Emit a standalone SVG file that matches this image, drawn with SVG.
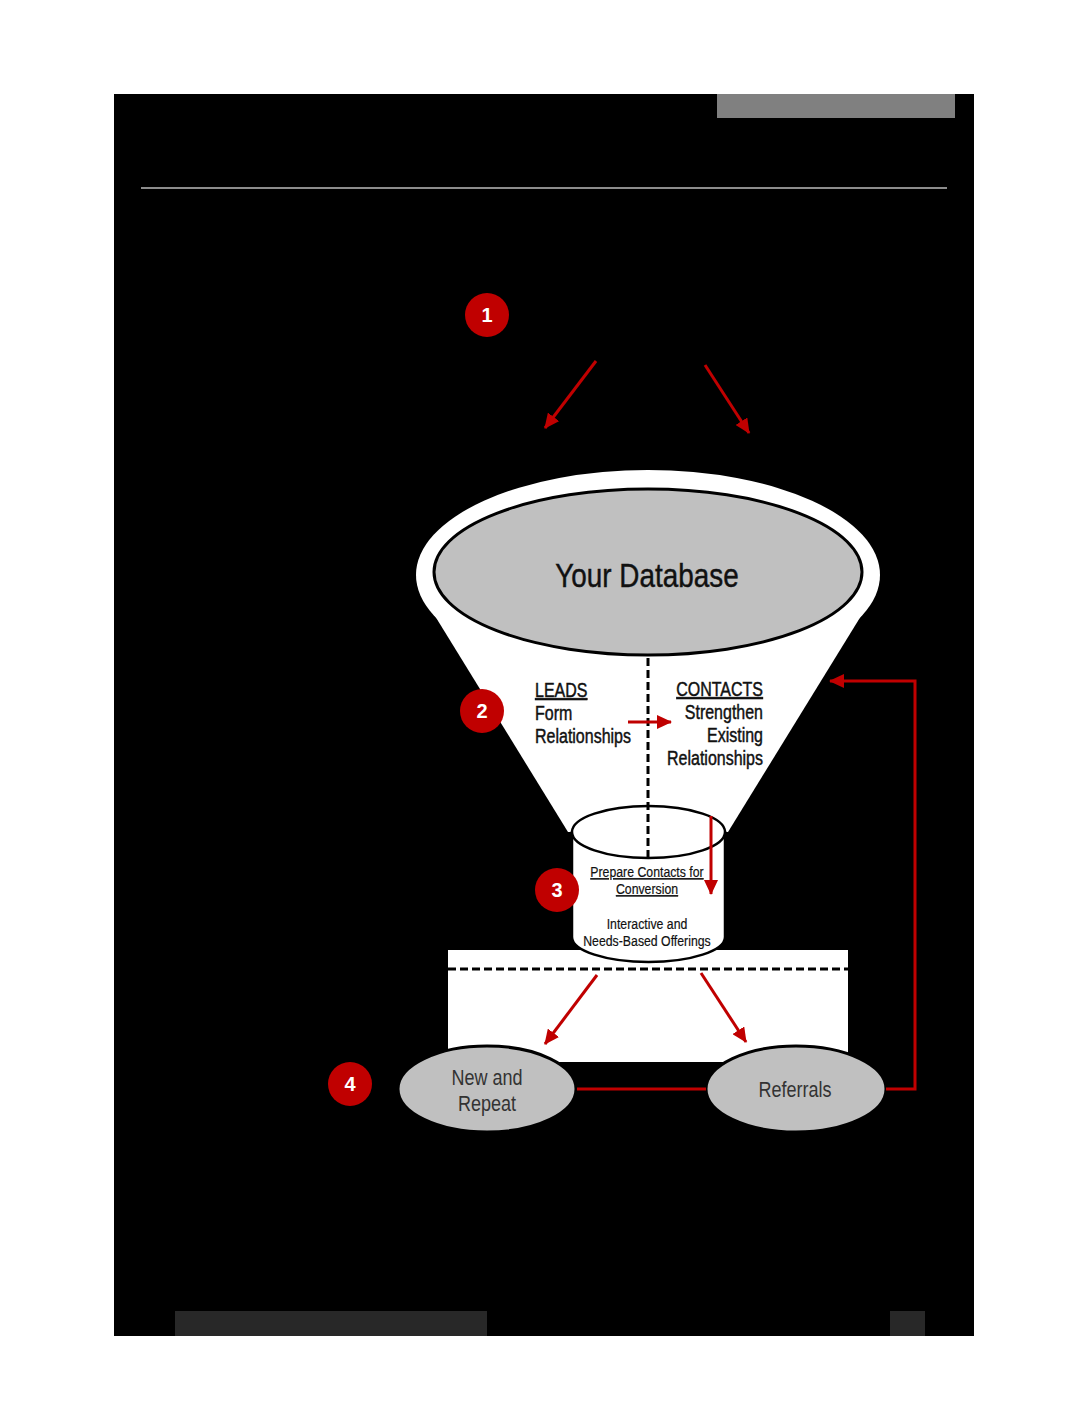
<svg xmlns="http://www.w3.org/2000/svg" width="1088" height="1408" viewBox="0 0 1088 1408">
<defs>
<style>
.nar{font-family:"Liberation Sans","Arial",sans-serif;}
.blk{fill:#111;stroke:#111;stroke-width:0.45;}
.lbl{font-size:19.5px;}
.cyl{font-size:15px;stroke-width:0.2;}
.ell{font-size:22px;fill:#333;text-anchor:middle;}
.u{text-decoration:underline;}
.badge circle{fill:#c00000;}
.badge text{font-family:"Liberation Sans","DejaVu Sans",sans-serif;font-weight:bold;font-size:20px;fill:#fff;text-anchor:middle;}
.red{stroke:#c00000;stroke-width:3;fill:none;}
.dash{stroke:#000;stroke-width:3;stroke-dasharray:8 4;fill:none;}
</style>
<marker id="ah" markerWidth="15" markerHeight="14" refX="14" refY="7" orient="auto" markerUnits="userSpaceOnUse">
<path d="M0,0 L15,7 L0,14 z" fill="#c00000"/>
</marker>
</defs>
<rect width="1088" height="1408" fill="#fff"/>
<rect x="114" y="94" width="860" height="1242" fill="#000"/>
<rect x="717" y="94" width="238" height="24" fill="#808080"/>
<line x1="141" y1="188" x2="947" y2="188" stroke="#8c8c8c" stroke-width="2"/>
<rect x="175" y="1311" width="312" height="25" fill="#282828"/>
<rect x="890" y="1311" width="35" height="25" fill="#282828"/>

<g id="funnel">
<polygon points="419,590 877,590 728,832 568,832" fill="#fff"/>
<ellipse cx="648" cy="575" rx="232" ry="105" fill="#fff"/>
<ellipse cx="648" cy="572" rx="214" ry="83" fill="#c0c0c0" stroke="#000" stroke-width="3"/>
<text class="nar blk" transform="translate(647,0) scale(0.82,1)" x="0" y="587" font-size="34" text-anchor="middle" stroke-width="0.5">Your Database</text>
</g>

<g id="bottom-box">
<rect x="448" y="950" width="400" height="112" fill="#fff"/>
<line class="dash" x1="448" y1="969" x2="848" y2="969"/>
</g>

<g id="cylinder">
<path d="M572,832 V937 A76.5,25 0 0 0 725,937 V832 Z" fill="#fff" stroke="#000" stroke-width="2.5"/>
<ellipse cx="648.5" cy="832" rx="76.5" ry="26" fill="#fff" stroke="#000" stroke-width="2.5"/>
<text class="nar blk cyl" transform="translate(647,0) scale(0.82,1)" text-anchor="middle"><tspan class="u" x="0" y="877">Prepare Contacts for</tspan><tspan class="u" x="0" y="894">Conversion</tspan><tspan x="0" y="929">Interactive and</tspan><tspan x="0" y="946">Needs-Based Offerings</tspan></text>
</g>

<g id="leads">
<text class="nar blk lbl" transform="translate(535,0) scale(0.82,1)"><tspan class="u" x="0" y="697">LEADS</tspan><tspan x="0" y="720">Form</tspan><tspan x="0" y="743">Relationships</tspan></text>
</g>
<g id="contacts">
<text class="nar blk lbl" transform="translate(763,0) scale(0.82,1)" text-anchor="end"><tspan class="u" x="0" y="696">CONTACTS</tspan><tspan x="0" y="719">Strengthen</tspan><tspan x="0" y="742">Existing</tspan><tspan x="0" y="765">Relationships</tspan></text>
</g>

<g id="new-repeat">
<ellipse cx="487" cy="1089" rx="89" ry="43" fill="#c0c0c0" stroke="#000" stroke-width="3"/>
<text class="nar ell" transform="translate(487,0) scale(0.82,1)"><tspan x="0" y="1085">New and</tspan><tspan x="0" y="1111">Repeat</tspan></text>
</g>
<g id="referrals">
<ellipse cx="796" cy="1089" rx="90" ry="43" fill="#c0c0c0" stroke="#000" stroke-width="3"/>
<text class="nar ell" transform="translate(795,0) scale(0.82,1)" x="0" y="1097">Referrals</text>
</g>

<g id="connectors">
<line class="dash" x1="648" y1="658" x2="648" y2="858"/>
<line class="red" x1="596" y1="361" x2="545" y2="428" marker-end="url(#ah)"/>
<line class="red" x1="705" y1="365" x2="749" y2="433" marker-end="url(#ah)"/>
<line class="red" x1="628" y1="722" x2="671" y2="722" marker-end="url(#ah)"/>
<line class="red" x1="711" y1="816" x2="711" y2="894" marker-end="url(#ah)"/>
<line class="red" x1="597" y1="975" x2="545" y2="1044" marker-end="url(#ah)"/>
<line class="red" x1="701" y1="973" x2="746" y2="1042" marker-end="url(#ah)"/>
<line class="red" x1="577" y1="1089" x2="706" y2="1089"/>
<path class="red" d="M886,1089 H915 V681 H830" marker-end="url(#ah)"/>
</g>

<g id="badge1" class="badge"><circle cx="487" cy="315" r="22"/><text x="487" y="322">1</text></g>
<g id="badge2" class="badge"><circle cx="482" cy="711" r="22"/><text x="482" y="718">2</text></g>
<g id="badge3" class="badge"><circle cx="557" cy="890" r="22"/><text x="557" y="897">3</text></g>
<g id="badge4" class="badge"><circle cx="350" cy="1084" r="22"/><text x="350" y="1091">4</text></g>
</svg>
